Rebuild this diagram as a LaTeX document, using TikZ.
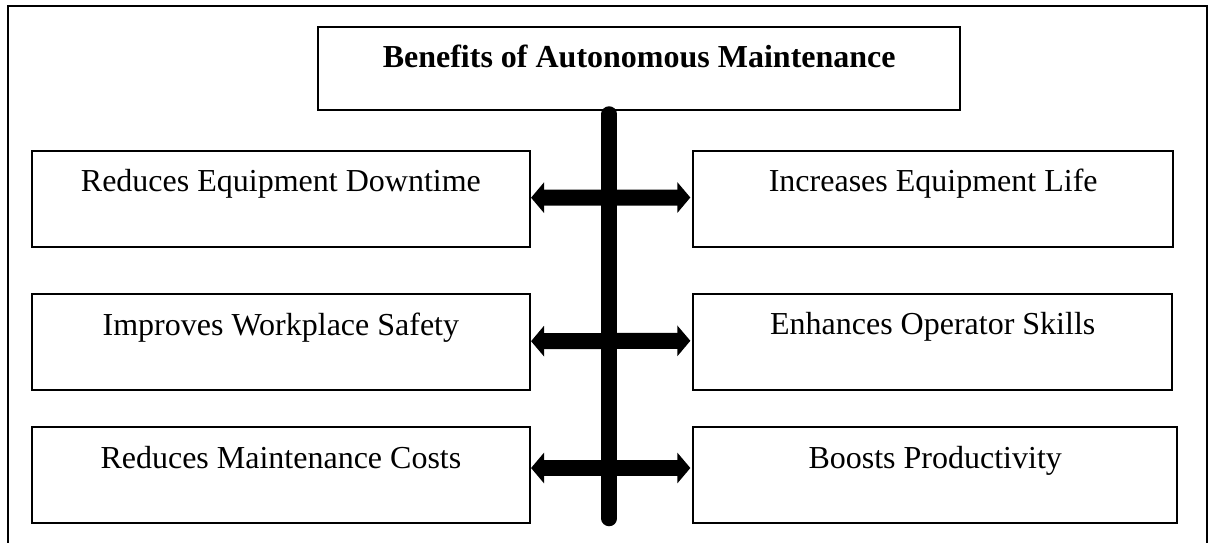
\documentclass[tikz,border=0pt]{standalone}
\usepackage{fontspec}
\setmainfont{Liberation Serif}
\usetikzlibrary{arrows.meta}
\tikzset{
  box/.style={draw, line width=2pt, inner sep=0pt, minimum height=96pt,
    text height=41pt, text depth=55pt, font=\fontsize{32}{38}\selectfont},
  titlebox/.style={box, minimum height=83pt, text height=41pt, text depth=42pt,
    font=\fontsize{32}{38}\selectfont\bfseries},
  bar/.style={line width=15.5pt, line cap=round},
  biarrow/.style={line width=16pt,
    {Triangle[length=13pt,width=30pt]}-{Triangle[length=13pt,width=30pt]}},
}
\begin{document}
\begin{tikzpicture}[x=1pt,y=-1pt]
\useasboundingbox (0,0) rectangle (1211,542);
% outer frame (bottom edge lies outside the picture)
\draw[line width=2.2pt] (8,560) -- (8,6) -- (1207,6) -- (1207,560);

\node[titlebox, minimum width=641.7pt] (title) at (639.2,68) {Benefits of Autonomous Maintenance};

\node[box, minimum width=498.3pt] (L1) at (280.9,198.7) {Reduces Equipment Downtime};
\node[box, minimum width=498.3pt] (L2) at (280.9,342.2) {Improves Workplace Safety};
\node[box, minimum width=498.3pt] (L3) at (280.9,475) {Reduces Maintenance Costs};

\node[box, minimum width=479.7pt] (R1) at (933.2,198.5) {Increases Equipment Life};
\node[box, minimum width=478.7pt] (R2) at (932.7,341.8) {Enhances Operator Skills};
\node[box, minimum width=483.7pt] (R3) at (935.2,475) {Boosts Productivity};

\coordinate (bartop) at (609.2,114);
\coordinate (barbot) at (609.2,518.5);
\draw[bar] (bartop) -- (barbot);

\draw[biarrow] ([yshift=1pt]L1.east) -- ([yshift=1pt,xshift=-2pt]R1.west);
\draw[biarrow] ([yshift=1pt]L2.east) -- ([yshift=1pt,xshift=-2pt]R2.west);
\draw[biarrow] ([yshift=7pt]L3.east) -- ([yshift=7pt,xshift=-2pt]R3.west);
\end{tikzpicture}
\end{document}
